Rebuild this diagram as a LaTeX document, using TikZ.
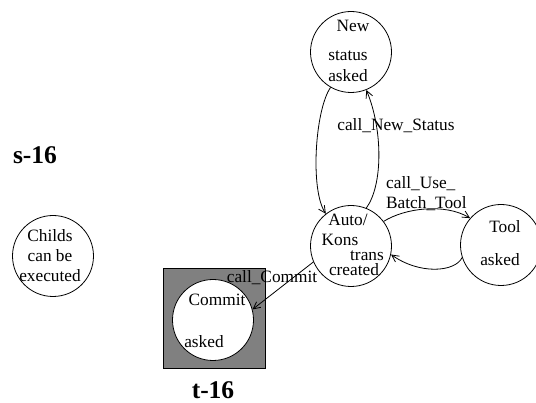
\documentclass[tikz,border=0pt]{standalone}
\usepackage{fontspec}
\setmainfont{Liberation Serif}
\usetikzlibrary{arrows.meta}
\definecolor{boxgray}{HTML}{808080}

\begin{document}
\begin{tikzpicture}[x=1pt,y=-1pt,every node/.style={font=\fontsize{17.3}{20}\selectfont,inner sep=0pt},state/.style={draw,circle,line width=.8pt,minimum size=81pt},edge/.style={line width=.8pt,-{Straight Barb[length=7pt,width=7pt]}},title/.style={font=\fontsize{25.5}{28}\selectfont\bfseries}]
\useasboundingbox (0,0) rectangle (536,403);
\node[title] (s16) at (35,155){s-16};
\node[state] (childs) at (53,256){};\node[align=center] (childstxt) at (50,256){Childs\\can be\\executed};
% final state in the grey box
\node[draw,fill=boxgray,line width=.8pt,minimum width=102pt,minimum height=100pt] (commitbox) at (214,318){};
\node[state,fill=white] (commit) at (213,320){};\node (committxt) at (217,300){Commit};\node (commitask) at (204,342){asked};
\node[title] (t16) at (213,390){t-16};
\node[state] (new) at (351,52){};\node (newtxt) at (353,26){New};\node (newstat) at (348,56){status};\node (newask) at (348,76){asked};
\node[state] (auto) at (351,246){};\node (autotxt) at (348,220){Auto/};\node (konstxt) at (340,240){Kons};\node (transtxt) at (367,256){trans};\node (createdtxt) at (354,270){created};
\node[state] (tool) at (501,245){};\node (tooltxt) at (505,227){Tool};\node (toolask) at (500,260){asked};
% transitions
\draw[edge] (new.240) .. controls (315,110) and (310,190) .. (auto.128);
\draw[edge] (auto.68) .. controls (383,185) and (383,130) .. (new.292);\node (lnew) at (396,126){call\_New\_Status};
\draw[edge] (auto.37) .. controls (405,208) and (445,203) .. (tool.139);\node[align=left,anchor=west] (luse) at (386,194){call\_Use\_\\Batch\_Tool};
\draw[edge] (tool.198) .. controls (455,272) and (420,275) .. (auto.348);
\draw[edge] (auto.203) -- (commit.15);\node (lcommit) at (272,278){call\_Commit};
\end{tikzpicture}
\end{document}
